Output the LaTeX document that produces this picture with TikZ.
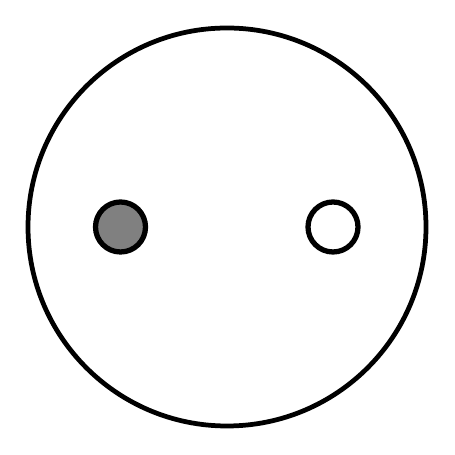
\documentclass[tikz,border=0pt]{standalone}
\begin{document}
\begin{tikzpicture}[x=0.01cm, y=0.01cm]
  \useasboundingbox (0,0) rectangle (455,455);

  % Outer disc
  \draw[line width=1.35pt] (227,228) circle (199);

  % The two small circles
  \draw[line width=1.5pt, fill=gray] (120.5,228) circle (25);
  \draw[line width=1.5pt, fill=white] (333,228) circle (25);
\end{tikzpicture}
\end{document}
